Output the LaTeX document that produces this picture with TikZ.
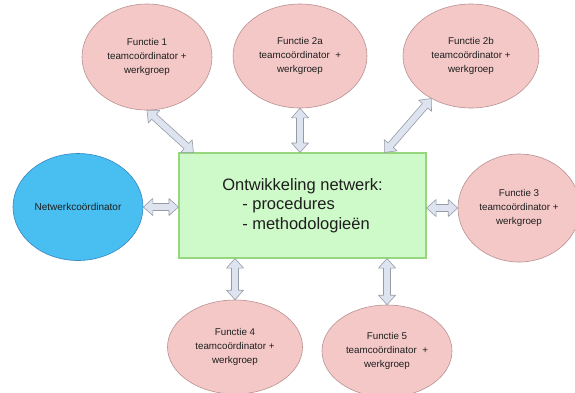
\documentclass[tikz,border=0pt]{standalone}
\usepackage{fontspec}
\setmainfont{Liberation Sans}
\usetikzlibrary{shapes.geometric,calc}

\definecolor{rolefill}{RGB}{245,200,200}
\definecolor{roledraw}{RGB}{185,145,145}
\definecolor{coordfill}{RGB}{72,190,241}
\definecolor{coorddraw}{RGB}{55,135,195}
\definecolor{hubfill}{RGB}{206,249,200}
\definecolor{hubdraw}{RGB}{150,215,125}
\definecolor{linkfill}{RGB}{222,228,239}
\definecolor{linkdraw}{RGB}{150,156,166}
\definecolor{inktext}{RGB}{30,30,30}

\tikzset{
  roleblob/.style={ellipse, draw=roledraw, fill=rolefill, line width=0.6pt,
    inner sep=0pt, align=center, text=inktext,
    font=\fontsize{9.8}{14}\selectfont},
  coordblob/.style={ellipse, draw=coorddraw, fill=coordfill, line width=0.6pt,
    inner sep=0pt, align=center, text=inktext,
    font=\fontsize{10}{12}\selectfont},
  hubbox/.style={rectangle, draw=hubdraw, fill=hubfill, line width=1.1pt,
    inner sep=0pt, minimum width=247pt, minimum height=105pt, align=left,
    text=inktext, font=\fontsize{16.5}{19.5}\selectfont},
  linkarrow/.style={draw=linkdraw, fill=linkfill, line width=0.6pt, line join=round}
}

% double-headed block arrow between two named points
\newcommand{\blockarrow}[2]{%
  \filldraw[linkarrow] (#1)
    -- ($(#1)!9.5pt!(#2)!8.5pt!90:(#2)$)
    -- ($(#1)!9.5pt!(#2)!3.5pt!90:(#2)$)
    -- ($(#2)!9.5pt!(#1)!3.5pt!-90:(#1)$)
    -- ($(#2)!9.5pt!(#1)!8.5pt!-90:(#1)$)
    -- (#2)
    -- ($(#2)!9.5pt!(#1)!8.5pt!90:(#1)$)
    -- ($(#2)!9.5pt!(#1)!3.5pt!90:(#1)$)
    -- ($(#1)!9.5pt!(#2)!3.5pt!-90:(#2)$)
    -- ($(#1)!9.5pt!(#2)!8.5pt!-90:(#2)$)
    -- cycle;}

\begin{document}
\begin{tikzpicture}[x=1pt, y=-1pt]
  \clip (0,0) rectangle (575,392);
  \fill[white] (0,0) rectangle (575,392);

  % central box
  \node[hubbox] (hub) at (302.5,205.5)
    {Ontwikkeling netwerk:\\\hspace*{20pt}- procedures\\\hspace*{20pt}- methodologieën};

  % surrounding roles
  \node[roleblob, minimum width=130pt, minimum height=106pt] (f1) at (147,57)
    {Functie 1\\teamcoördinator +\\werkgroep};
  \node[roleblob, minimum width=134pt, minimum height=104pt] (f2a) at (300,56)
    {Functie 2a\\teamcoördinator \ +\\werkgroep};
  \node[roleblob, minimum width=136pt, minimum height=104pt] (f2b) at (471,56)
    {Functie 2b\\teamcoördinator +\\werkgroep};
  \node[coordblob, minimum width=130pt, minimum height=107pt] (net) at (78,207)
    {Netwerkcoördinator};
  \node[roleblob, minimum width=122pt, minimum height=108pt] (f3) at (519,208)
    {Functie 3\\teamcoördinator +\\werkgroep};
  \node[roleblob, minimum width=135pt, minimum height=94pt] (f4) at (235,347)
    {Functie 4\\teamcoördinator +\\werkgroep};
  \node[roleblob, minimum width=130pt, minimum height=92pt] (f5) at (387,351)
    {Functie 5\\teamcoördinator \ +\\werkgroep};

  % arrow ends on the box
  \coordinate (hubA) at ($(hub.north west)+(15,0)$);
  \coordinate (hubB) at (f2a.south |- hub.north);
  \coordinate (hubC) at ($(hub.north west)+(206,0)$);
  \coordinate (hubD) at (hub.west |- net.east);
  \coordinate (hubE) at (hub.east |- f3.west);
  \coordinate (hubF) at (f4.north |- hub.south);
  \coordinate (hubG) at (f5.north |- hub.south);
  \coordinate (f2bend) at (f2b.227);

  \blockarrow{f1.south}{hubA}
  \blockarrow{f2a.south}{hubB}
  \blockarrow{f2bend}{hubC}
  \blockarrow{net.east}{hubD}
  \blockarrow{hubE}{f3.west}
  \blockarrow{hubF}{f4.north}
  \blockarrow{hubG}{f5.north}
\end{tikzpicture}
\end{document}
